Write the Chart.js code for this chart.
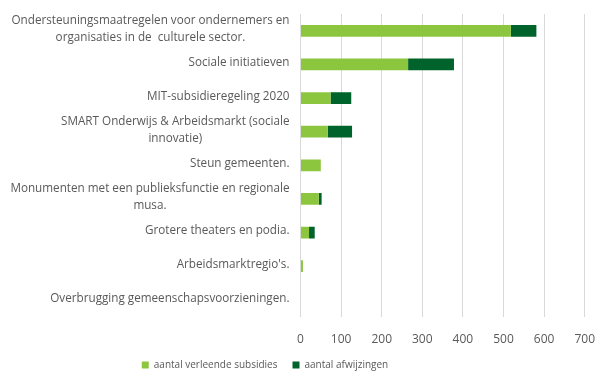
<!DOCTYPE html>
<html>
<head>
<meta charset="utf-8">
<script src="https://cdn.jsdelivr.net/npm/chart.js@4.4.0/dist/chart.umd.min.js"></script>
<style>
  html, body { margin: 0; padding: 0; background: #fff; }
  #wrap { width: 611px; height: 384px; }
</style>
</head>
<body>
<div id="wrap"><canvas id="chart" width="611" height="384"></canvas></div>
<script>
// 카테고리 (여러 줄 라벨)
const categories = [
    ['Ondersteuningsmaatregelen voor ondernemers en', 'organisaties in de  culturele sector.'],
    ['Sociale initiatieven'],
    ['MIT-subsidieregeling 2020'],
    ['SMART Onderwijs & Arbeidsmarkt (sociale', 'innovatie)'],
    ['Steun gemeenten.'],
    ['Monumenten met een publieksfunctie en regionale', 'musa.'],
    ['Grotere theaters en podia.'],
    ["Arbeidsmarktregio's."],
    ['Overbrugging gemeenschapsvoorzieningen.']
];

const seriesNames = ['aantal verleende subsidies', 'aantal afwijzingen'];
const granted = [518, 265, 74, 67, 50, 45, 21, 6, 0];
const rejected = [63, 113, 51, 60, 0, 7, 14, 0, 0];
const xTicks = [0, 100, 200, 300, 400, 500, 600, 700];

const lightGreen = '#8CC63F';
const darkGreen = '#00632B';
const textGray = '#595959';
const fontFamily = "'Open Sans', 'DejaVu Sans', sans-serif";

// 카테고리 라벨을 직접 그리는 플러그인 (블록은 오른쪽 정렬, 줄은 가운데 정렬)
const categoryLabels = {
    id: 'categoryLabels',
    afterDraw(chart) {
        const ctx = chart.ctx;
        const yScale = chart.scales.y;
        const right = chart.chartArea.left - 11;
        const lineHeight = 17;
        ctx.save();
        ctx.font = '11.7px ' + fontFamily;
        ctx.fillStyle = textGray;
        ctx.textAlign = 'center';
        ctx.textBaseline = 'middle';
        categories.forEach((lines, i) => {
            const maxW = Math.max(...lines.map(l => ctx.measureText(l).width));
            const cx = right - maxW / 2;
            const cy = yScale.getPixelForValue(i) - 1.5;
            const startY = cy - (lines.length - 1) * lineHeight / 2;
            lines.forEach((l, j) => ctx.fillText(l, cx, startY + j * lineHeight));
        });
        ctx.restore();
    }
};

// 범례 위치 보정 (Excel 원본처럼 약간 왼쪽/위로)
const legendShift = {
    id: 'legendShift',
    afterLayout(chart) {
        const lg = chart.legend;
        if (!lg) return;
        lg.left -= 28; lg.right -= 28;
        lg.top -= 18; lg.bottom -= 18;
    }
};

new Chart(document.getElementById('chart'), {
    type: 'bar',
    data: {
        labels: categories.map(c => c.join(' ')),
        datasets: [
            { label: seriesNames[0], data: granted, backgroundColor: lightGreen },
            { label: seriesNames[1], data: rejected, backgroundColor: darkGreen }
        ]
    },
    options: {
        indexAxis: 'y',
        responsive: false,
        animation: false,
        layout: { padding: { left: 0, right: 25, top: 14, bottom: -14 } },
        categoryPercentage: 0.7,
        barPercentage: 0.5,
        scales: {
            x: {
                stacked: true,
                min: 0,
                max: 700,
                afterBuildTicks: axis => { axis.ticks = xTicks.map(v => ({ value: v })); },
                grid: { color: '#d9d9d9', drawTicks: false },
                border: { display: false },
                ticks: {
                    color: textGray,
                    padding: 16,
                    font: { size: 12, family: fontFamily }
                }
            },
            y: {
                stacked: true,
                grid: { display: false },
                border: { display: false },
                ticks: { display: false },
                afterFit: axis => { axis.width = 300.5; }
            }
        },
        plugins: {
            legend: {
                position: 'bottom',
                labels: {
                    boxWidth: 7,
                    boxHeight: 7,
                    color: textGray,
                    padding: 15,
                    font: { size: 10, family: fontFamily }
                }
            },
            tooltip: { enabled: false }
        }
    },
    plugins: [categoryLabels, legendShift]
});
</script>
</body>
</html>
